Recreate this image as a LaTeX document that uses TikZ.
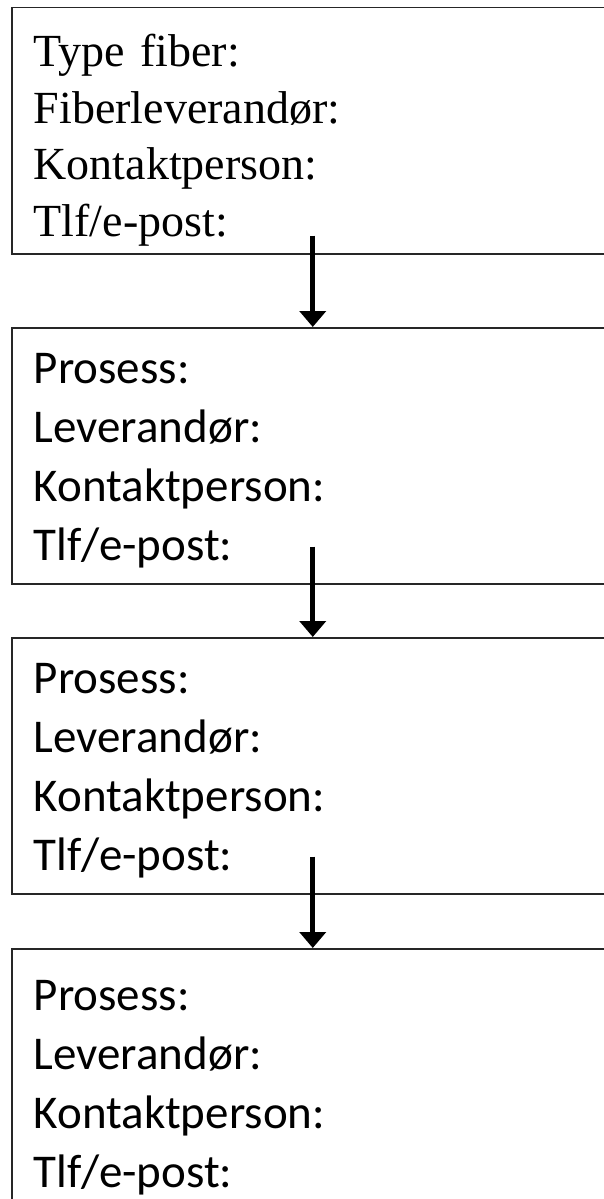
\documentclass[tikz,border=0pt]{standalone}
\usepackage{fontspec}
\setmainfont{Carlito}
\newfontfamily\fiberfont{Liberation Serif}
\usetikzlibrary{arrows.meta}

\begin{document}
\begin{tikzpicture}[x=1pt,y=-1pt,
  infobox/.style={draw=black!85,line width=1.5pt,anchor=north west,
    text width=558pt,inner xsep=22pt,inner ysep=0pt,align=left,
    font=\fontsize{47}{59}\selectfont},
  fiberbox/.style={infobox,font=\fiberfont\fontsize{46}{56.5}\selectfont},
  flow/.style={-{Triangle[width=26pt,length=16pt]},line width=5pt}]
\useasboundingbox (0,0) rectangle (604,1199);
\clip (0,0) rectangle (604,1199);
  % Draw the boxes (text height = first baseline, height+depth = box)
  \node[fiberbox,text height=59pt,text depth=187pt] (fiber) at (11,7)
    {Type fiber:\\Fiberleverandør:\\Kontaktperson:\\Tlf/e-post:};
  \node[infobox,text height=56pt,text depth=200pt] (prosessA) at (11,327)
    {Prosess:\\Leverandør:\\Kontaktperson:\\Tlf/e-post:};
  \node[infobox,text height=56pt,text depth=200pt] (prosessB) at (11,637)
    {Prosess:\\Leverandør:\\Kontaktperson:\\Tlf/e-post:};
  \node[infobox,text height=62pt,text depth=260pt] (prosessC) at (11,948)
    {Prosess:\\Leverandør:\\Kontaktperson:\\Tlf/e-post:};
  % Draw arrows
  \draw[flow] ([yshift=19pt]fiber.south) -- (prosessA.north);
  \draw[flow] ([yshift=38pt]prosessA.south) -- (prosessB.north);
  \draw[flow] ([yshift=38pt]prosessB.south) -- (prosessC.north);
\end{tikzpicture}
\end{document}
